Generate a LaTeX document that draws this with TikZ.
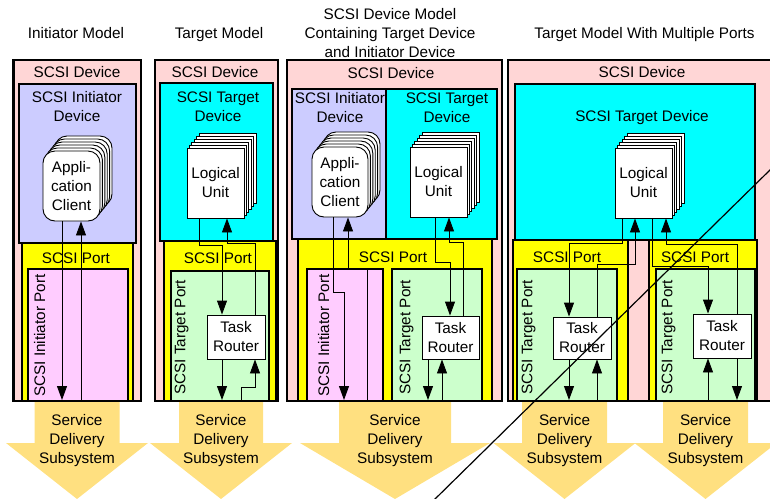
\documentclass[tikz,border=0pt]{standalone}
\usepackage{fontspec}
\setmainfont{Liberation Sans}
\usetikzlibrary{arrows.meta}

\definecolor{devpink}{RGB}{255,214,214}
\definecolor{initblue}{RGB}{204,204,255}
\definecolor{tgtcyan}{RGB}{0,255,255}
\definecolor{portyellow}{RGB}{255,255,0}
\definecolor{initpink}{RGB}{255,204,255}
\definecolor{tgtgreen}{RGB}{204,255,204}
\definecolor{sdsgold}{RGB}{255,224,128}

\begin{document}
\begin{tikzpicture}[x=1pt,y=1pt,yscale=-1,xscale=1,
  font=\fontsize{15.3}{19}\selectfont,
  devbox/.style={draw=black, line width=2.4pt},
  portbox/.style={draw=black, line width=2pt},
  unitbox/.style={draw=black, fill=white, line width=0.9pt},
  txt/.style={inner sep=0pt, align=center},
  sidetxt/.style={inner sep=0pt, rotate=90, anchor=west},
  flow/.style={line width=0.9pt},
  tip/.style={-{Triangle[length=14pt,width=10pt]}},
  sds/.style={fill=sdsgold}]
\useasboundingbox (0,0) rectangle (770,498);
\clip (0,0) rectangle (770,498);

%Service delivery subsystem arrows
\foreach \cx/\sw/\hw in {77/42.5/71, 221/42/71, 395/56/95, 564.5/42.5/71, 705.5/42.5/71}
  \fill[sds] (\cx-\sw,400) -- (\cx+\sw,400) -- (\cx+\sw,443) -- (\cx+\hw,443) -- (\cx,499) -- (\cx-\hw,443) -- (\cx-\sw,443) -- cycle;
\node[txt] (sds1) at (77,440.5) {Service\\Delivery\\Subsystem};
\node[txt] (sds2) at (221,440.5) {Service\\Delivery\\Subsystem};
\node[txt] (sds3) at (395,440.5) {Service\\Delivery\\Subsystem};
\node[txt] (sds4) at (564.5,440.5) {Service\\Delivery\\Subsystem};
\node[txt] (sds5) at (705.5,440.5) {Service\\Delivery\\Subsystem};

%Titles
\node[txt] (title1) at (76,33) {Initiator Model};
\node[txt] (title2) at (219,34.6) {Target Model};
\node[txt] (title3) at (390,33) {SCSI Device Model\\Containing Target Device\\and Initiator Device};
\node[txt] (title4) at (644.5,34.6) {Target Model With Multiple Ports};

%Initiator model
\draw[devbox, fill=devpink] (13.5,60) rectangle (141,401);
\node[txt] (dev1) at (77,72) {SCSI Device};
\draw[portbox, fill=initblue] (19,84) rectangle (136,243);
\node[txt] (idev1) at (77,106.5) {SCSI Initiator\\Device};
\draw[portbox, fill=portyellow] (22,243) rectangle (133,401);
\node[txt] (port1) at (76,258) {SCSI Port};
\draw[portbox, fill=initpink] (28,269) rectangle (128,401);
\node[sidetxt] (iport1) at (39.6,397) {SCSI Initiator Port};
\foreach \k in {5,4,3,2,1}
  \draw[unitbox, rounded corners=12pt] (43+2.4*\k,151-3*\k) rectangle +(57,70);
\node[unitbox, txt, rounded corners=12pt, minimum width=57pt, minimum height=70pt] (app1) at (71.5,186) {Appli-\\cation\\Client};
\coordinate (base1) at (77,400);
\draw[flow, tip] ([xshift=-9.5pt]app1.south) -- ([xshift=-9.5pt]app1.south |- base1);
\draw[flow, tip] ([xshift=9.5pt]app1.south |- base1) -- ([xshift=9.5pt]app1.south);

%Target model
\draw[devbox, fill=devpink] (155,60) rectangle (278,401);
\node[txt] (dev2) at (215,72) {SCSI Device};
\draw[portbox, fill=tgtcyan] (160,83) rectangle (273,241);
\node[txt] (tdev2) at (218,106.5) {SCSI Target\\Device};
\draw[portbox, fill=portyellow] (164,241) rectangle (276,401);
\node[txt] (port2) at (218,258) {SCSI Port};
\draw[portbox, fill=tgtgreen] (171,271) rectangle (269,401);
\node[sidetxt] (tport2) at (181.6,395) {SCSI Target Port};
\foreach \k in {5,4,3,2,1}
  \draw[unitbox] (187+2.4*\k,148-3*\k) rectangle +(57,70);
\node[unitbox, txt, minimum width=57pt, minimum height=70pt] (lu2) at (215.5,183) {Logical\\Unit};
\node[unitbox, txt, minimum width=58pt, minimum height=44pt] (tr2) at (236,337) {Task\\Router};
\coordinate (base2) at (221,400);
\draw[flow, tip] ([xshift=-16.5pt]lu2.south) -- ++(0,27) -| ([xshift=-14pt]tr2.north);
\draw[flow, tip] ([xshift=19pt]tr2.north) -- ++(0,-71) -| ([xshift=11.5pt]lu2.south);
\draw[flow, tip] ([xshift=-14pt]tr2.south) -- ([xshift=-14pt]tr2.south |- base2);
\draw[flow, tip] ([xshift=5pt]tr2.south |- base2) -- ++(0,-13) -| ([xshift=19pt]tr2.south);

%Device model with target and initiator device
\draw[devbox, fill=devpink] (287,60) rectangle (502,401);
\node[txt] (dev3) at (391,73) {SCSI Device};
\draw[portbox, fill=initblue] (292,89) rectangle (386,239);
\node[txt] (idev3) at (340,108) {SCSI Initiator\\Device};
\draw[portbox, fill=tgtcyan] (386,89) rectangle (497,239);
\node[txt] (tdev3) at (447,108) {SCSI Target\\Device};
\draw[portbox, fill=portyellow] (298,239) rectangle (492,401);
\node[txt] (port3) at (393,257.5) {SCSI Port};
\draw[portbox, fill=initpink] (307,269) rectangle (383,401);
\draw[portbox, fill=tgtgreen] (392,269) rectangle (482,401);
\node[sidetxt] (iport3) at (323.6,397) {SCSI Initiator Port};
\node[sidetxt] (tport3) at (406.6,395) {SCSI Target Port};
\foreach \k in {5,4,3,2,1}
  \draw[unitbox, rounded corners=12pt] (312+2.4*\k,147-3*\k) rectangle +(56,70);
\node[unitbox, txt, rounded corners=12pt, minimum width=56pt, minimum height=70pt] (app3) at (340,182) {Appli-\\cation\\Client};
\foreach \k in {5,4,3,2,1}
  \draw[unitbox] (410+2.4*\k,147-3*\k) rectangle +(57,70);
\node[unitbox, txt, minimum width=57pt, minimum height=70pt] (lu3) at (438.5,182) {Logical\\Unit};
\node[unitbox, txt, minimum width=57pt, minimum height=43pt] (tr3) at (450.5,337.5) {Task\\Router};
\coordinate (base3) at (395,400);
\draw[flow, tip] ([xshift=-7pt]app3.south) -- ++(0,75) -| ([xshift=4pt]app3.south |- base3);
\draw[flow, tip] ([xshift=27pt]app3.south |- base3) -- ++(0,-131) -| ([xshift=8pt]app3.south);
\draw[flow, tip] ([xshift=-3.5pt]lu3.south) -- ++(0,45) -| ([xshift=-0.5pt]tr3.north);
\draw[flow, tip] ([xshift=12.5pt]tr3.north) -- ++(0,-73) -| ([xshift=10.5pt]lu3.south);
\draw[flow, tip] ([xshift=-22.5pt]tr3.south) -- ([xshift=-22.5pt]tr3.south |- base3);
\draw[flow, tip] ([xshift=-8.5pt]tr3.south |- base3) -- ([xshift=-8.5pt]tr3.south);

%Target model with multiple ports
\draw[devbox, fill=devpink] (508,60) rectangle (773,401);
\node[txt] (dev4) at (642,72) {SCSI Device};
\draw[portbox, fill=tgtcyan] (515,84) rectangle (755,240);
\node[txt] (tdev4) at (642,117.6) {SCSI Target Device};
\draw[portbox, fill=portyellow] (513,240) rectangle (628,401);
\draw[portbox, fill=portyellow] (649,240) rectangle (757,401);
\node[txt] (port4a) at (567,257) {SCSI Port};
\node[txt] (port4b) at (695,257) {SCSI Port};
\draw[portbox, fill=tgtgreen] (517,269) rectangle (617,401);
\draw[portbox, fill=tgtgreen] (656,269) rectangle (755,401);
\node[sidetxt] (tport4a) at (528.6,395) {SCSI Target Port};
\node[sidetxt] (tport4b) at (668.6,395) {SCSI Target Port};
\foreach \k in {5,4,3,2,1}
  \draw[unitbox] (615+2.4*\k,148-3*\k) rectangle +(57,70);
\node[unitbox, txt, minimum width=57pt, minimum height=70pt] (lu4) at (643.5,183) {Logical\\Unit};
\node[unitbox, txt, minimum width=58pt, minimum height=42pt] (tr4a) at (582,338) {Task\\Router};
\node[unitbox, txt, minimum width=58pt, minimum height=44pt] (tr4b) at (722,336) {Task\\Router};
\coordinate (base4) at (635,400);
\draw[flow, tip] ([xshift=-21.5pt]lu4.south) -- ++(0,25) -| ([xshift=-13pt]tr4a.north);
\draw[flow, tip] ([xshift=15pt]tr4a.north) -- ++(0,-52) -| ([xshift=-8.5pt]lu4.south);
\draw[flow, tip] ([xshift=-13pt]tr4a.south) -- ([xshift=-13pt]tr4a.south |- base4);
\draw[flow, tip] ([xshift=15pt]tr4a.south |- base4) -- ([xshift=15pt]tr4a.south);
\draw[flow, tip] ([xshift=8.5pt]lu4.south) -- ++(0,48) -| ([xshift=-14pt]tr4b.north);
\draw[flow, tip] ([xshift=15pt]tr4b.north) -- ++(0,-69) -| ([xshift=22.5pt]lu4.south);
\draw[flow, tip] ([xshift=-14pt]tr4b.south |- base4) -- ([xshift=-14pt]tr4b.south);
\draw[flow, tip] ([xshift=15pt]tr4b.south) -- ([xshift=15pt]tr4b.south |- base4);

%Stray diagonal stroke
\coordinate (slashA) at (772,168);
\coordinate (slashB) at (434,500);
\draw[line width=1.2pt] (slashA) -- (slashB);

\end{tikzpicture}
\end{document}
